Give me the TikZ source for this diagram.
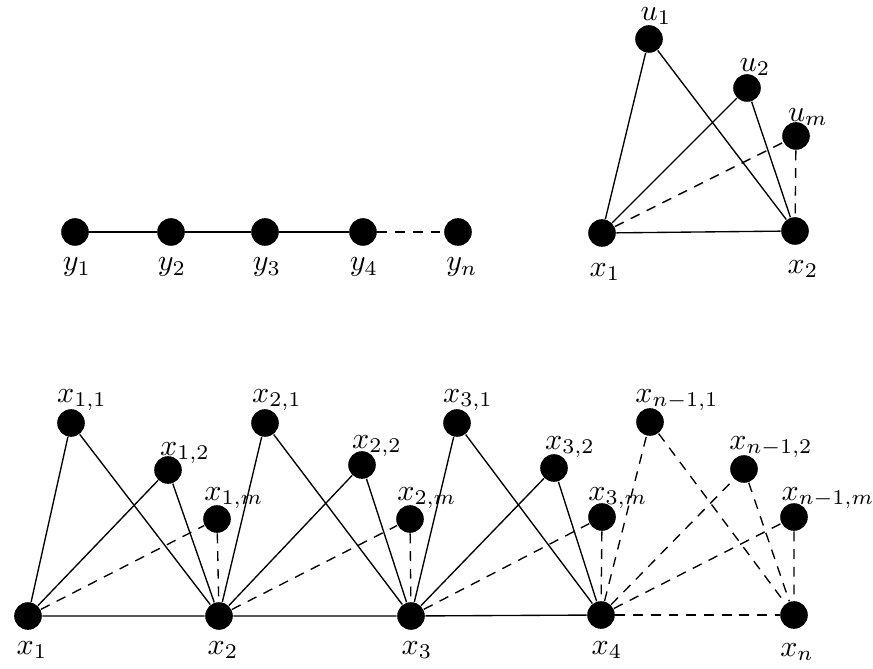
\documentclass[tikz,border=0pt]{standalone}
\begin{document}
\begin{tikzpicture}[x=0.3333pt,y=-0.3333pt,
  vtx/.style={circle,fill=black,draw=none,minimum size=9.2pt,inner sep=0pt},
  lbl/.style={inner sep=0pt},
  edge/.style={line width=0.45pt},
  dedge/.style={line width=0.45pt,dash pattern=on 3.3pt off 2.6pt}]
\useasboundingbox (0,0) rectangle (873,669);
% ---- path
\node[vtx] (y1) at (75,232) {};
\node[vtx] (y2) at (171,232) {};
\node[vtx] (y3) at (265,232) {};
\node[vtx] (y4) at (363,232) {};
\node[vtx] (yn) at (458,232) {};
\node[lbl] (ly1) at (77,267) {$y_1$};
\node[lbl] (ly2) at (172,267) {$y_2$};
\node[lbl] (ly3) at (267,267) {$y_3$};
\node[lbl] (ly4) at (364,267) {$y_4$};
\node[lbl] (lyn) at (462,267) {$y_n$};
\draw[edge] (y1) -- (y2) -- (y3) -- (y4);
\draw[dedge] (y4) -- (yn);
% ---- fan
\node[vtx] (u1) at (649,39) {};
\node[vtx] (u2) at (747,88) {};
\node[vtx] (um) at (796,136) {};
\node[vtx] (a1) at (602,233) {};
\node[vtx] (a2) at (795,231) {};
\node[lbl] (lu1) at (656,16) {$u_1$};
\node[lbl] (lu2) at (755,67) {$u_2$};
\node[lbl] (lum) at (808,117) {$u_m$};
\node[lbl] (la1) at (605,272) {$x_1$};
\node[lbl] (la2) at (803,269) {$x_2$};
\draw[edge] (a1) -- (u1) -- (a2);
\draw[edge] (a1) -- (u2) -- (a2);
\draw[dedge] (a1) -- (um) -- (a2);
\draw[edge] (a1) -- (a2);
% ---- bottom
\node[vtx] (x1) at (28,616) {};
\node[vtx] (x2) at (219,616) {};
\node[vtx] (x3) at (411,616) {};
\node[vtx] (x4) at (601,615) {};
\node[vtx] (xn) at (794,615) {};
\node[lbl] (lx1) at (32,650) {$x_1$};
\node[lbl] (lx2) at (223,650) {$x_2$};
\node[lbl] (lx3) at (417,650) {$x_3$};
\node[lbl] (lx4) at (607,650) {$x_4$};
\node[lbl] (lxn) at (797,652) {$x_n$};
\node[vtx] (p11) at (71,423) {};
\node[vtx] (p12) at (168,470) {};
\node[vtx] (p1m) at (217,519) {};
\node[vtx] (p21) at (265,423) {};
\node[vtx] (p22) at (362,465) {};
\node[vtx] (p2m) at (410,519) {};
\node[vtx] (p31) at (457,423) {};
\node[vtx] (p32) at (554,468) {};
\node[vtx] (p3m) at (602,517) {};
\node[vtx] (q1) at (650,422) {};
\node[vtx] (q2) at (744,469) {};
\node[vtx] (qm) at (794,517) {};
\node[lbl] (lp11) at (82,400) {$x_{1,1}$};
\node[lbl] (lp12) at (185,453) {$x_{1,2}$};
\node[lbl] (lp1m) at (234,498) {$x_{1,m}$};
\node[lbl] (lp21) at (277,400) {$x_{2,1}$};
\node[lbl] (lp22) at (377,446) {$x_{2,2}$};
\node[lbl] (lp2m) at (427,498) {$x_{2,m}$};
\node[lbl] (lp31) at (468,400) {$x_{3,1}$};
\node[lbl] (lp32) at (570,447) {$x_{3,2}$};
\node[lbl] (lp3m) at (618,498) {$x_{3,m}$};
\node[lbl] (lq1) at (677,400) {$x_{n-1,1}$};
\node[lbl] (lq2) at (771,447) {$x_{n-1,2}$};
\node[lbl] (lqm) at (828,498) {$x_{n-1,m}$};
\draw[edge] (x1) -- (x2) -- (x3) -- (x4);
\draw[dedge] (x4) -- (xn);
\draw[edge] (x1) -- (p11) -- (x2);
\draw[edge] (x1) -- (p12) -- (x2);
\draw[dedge] (x1) -- (p1m) -- (x2);
\draw[edge] (x2) -- (p21) -- (x3);
\draw[edge] (x2) -- (p22) -- (x3);
\draw[dedge] (x2) -- (p2m) -- (x3);
\draw[edge] (x3) -- (p31) -- (x4);
\draw[edge] (x3) -- (p32) -- (x4);
\draw[dedge] (x3) -- (p3m) -- (x4);
\draw[dedge] (x4) -- (q1) -- (xn);
\draw[dedge] (x4) -- (q2) -- (xn);
\draw[dedge] (x4) -- (qm) -- (xn);
\end{tikzpicture}
\end{document}
